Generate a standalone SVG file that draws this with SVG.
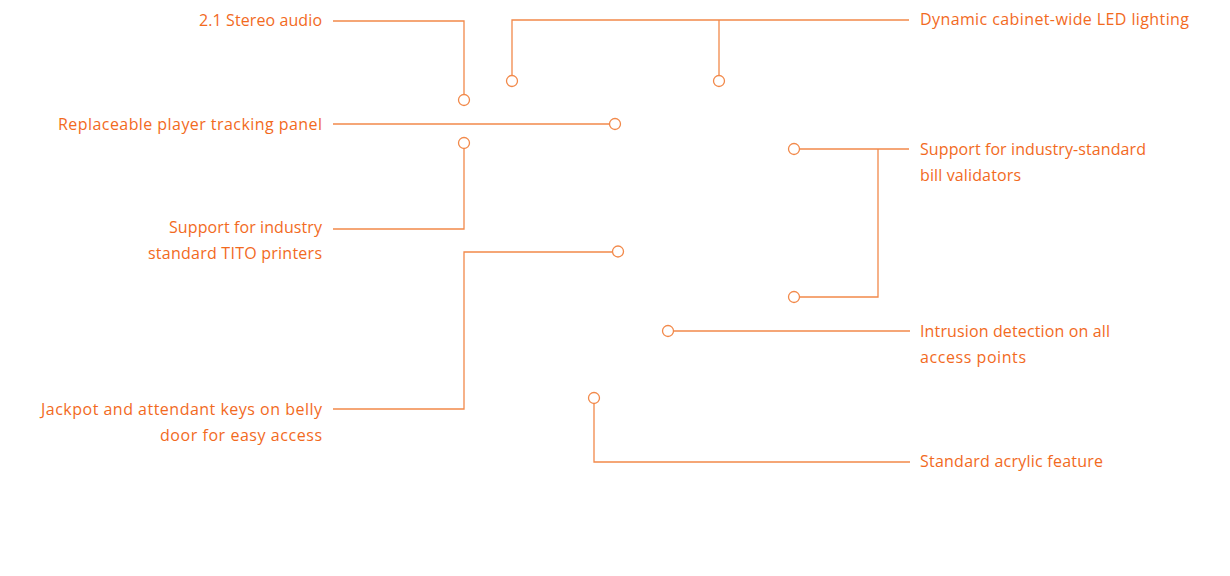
<svg xmlns="http://www.w3.org/2000/svg" width="1230" height="576" viewBox="0 0 1230 576">
<style>
.t{font-family:"Open Sans","Lato","Liberation Sans",sans-serif;font-size:16px;fill:#f26a1e}
.r{text-anchor:end}
.l{fill:none;stroke:#f2894a;stroke-width:1.3}
.c{fill:#fff;stroke:#f2894a;stroke-width:1.3}
</style>
<rect width="1230" height="576" fill="#fff"/>
<g id="connectors">
<polyline class="l" points="333,21 464,21 464,94.5"/>
<polyline class="l" points="909,20 512,20 512,75.5"/>
<line class="l" x1="719" y1="20" x2="719" y2="75.5"/>
<line class="l" x1="333" y1="124" x2="609.5" y2="124"/>
<polyline class="l" points="464,148.5 464,229 333,229"/>
<polyline class="l" points="333,409 464,409 464,252 612.5,252"/>
<polyline class="l" points="799.5,149 909,149"/>
<polyline class="l" points="878,149 878,297 799.5,297"/>
<line class="l" x1="673.5" y1="331" x2="910" y2="331"/>
<polyline class="l" points="594,403.5 594,462 910,462"/>
</g>
<g id="n-stereo"><text class="t r" x="322" y="25.5" textLength="123" lengthAdjust="spacing">2.1 Stereo audio</text><circle class="c" cx="464" cy="100" r="5.5"/></g>
<g id="n-led"><text class="t" x="920" y="24.5" textLength="269" lengthAdjust="spacing">Dynamic cabinet-wide LED lighting</text><circle class="c" cx="512" cy="81" r="5.5"/><circle class="c" cx="719" cy="81" r="5.5"/></g>
<g id="n-panel"><text class="t r" x="322" y="129.5" textLength="264" lengthAdjust="spacing">Replaceable player tracking panel</text><circle class="c" cx="615" cy="124" r="5.5"/></g>
<g id="n-tito"><text class="t r" x="322" y="232.5" textLength="153" lengthAdjust="spacing">Support for industry</text><text class="t r" x="322" y="258.5" textLength="174" lengthAdjust="spacing">standard TITO printers</text><circle class="c" cx="464" cy="143" r="5.5"/></g>
<g id="n-jackpot"><text class="t r" x="322" y="414.5" textLength="281" lengthAdjust="spacing">Jackpot and attendant keys on belly</text><text class="t r" x="322" y="440.5" textLength="162" lengthAdjust="spacing">door for easy access</text><circle class="c" cx="618" cy="251.5" r="5.5"/></g>
<g id="n-bill"><text class="t" x="920" y="154.5" textLength="226" lengthAdjust="spacing">Support for industry-standard</text><text class="t" x="920" y="180.5" textLength="101" lengthAdjust="spacing">bill validators</text><circle class="c" cx="794" cy="149" r="5.5"/><circle class="c" cx="794" cy="297" r="5.5"/></g>
<g id="n-intrusion"><text class="t" x="920" y="336.5" textLength="190" lengthAdjust="spacing">Intrusion detection on all</text><text class="t" x="920" y="362.5" textLength="106" lengthAdjust="spacing">access points</text><circle class="c" cx="668" cy="331" r="5.5"/></g>
<g id="n-acrylic"><text class="t" x="920" y="466.5" textLength="183" lengthAdjust="spacing">Standard acrylic feature</text><circle class="c" cx="594" cy="398" r="5.5"/></g>
</svg>
